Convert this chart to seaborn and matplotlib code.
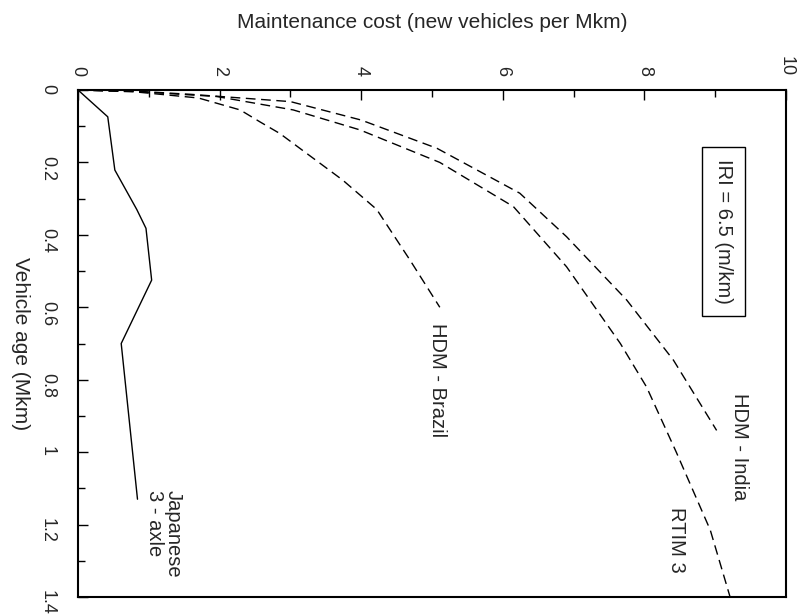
import matplotlib
matplotlib.use("Agg")
import matplotlib.pyplot as plt
import seaborn as sns
import pandas as pd

# Vehicle age (Mkm) and maintenance cost (new vehicles per Mkm)
age_india = [0.0, 0.003, 0.012, 0.032, 0.083, 0.161, 0.285, 0.405, 0.58, 0.746, 0.94]
cost_india = [0.0, 0.8, 1.6, 3.0, 4.0, 5.07, 6.24, 6.9, 7.75, 8.41, 9.02]

age_rtim = [0.0, 0.004, 0.018, 0.055, 0.11, 0.2, 0.322, 0.488, 0.7, 0.82, 1.0, 1.215, 1.4]
cost_rtim = [0.0, 0.8, 1.96, 3.04, 3.98, 5.11, 6.15, 6.9, 7.66, 8.03, 8.45, 8.93, 9.21]

age_brazil = [0.0, 0.005, 0.022, 0.055, 0.088, 0.12, 0.249, 0.33, 0.47, 0.6]
cost_brazil = [0.0, 0.8, 1.7, 2.29, 2.57, 2.85, 3.74, 4.22, 4.69, 5.11]

age_japan = [0.0, 0.074, 0.221, 0.33, 0.382, 0.525, 0.70, 1.13]
cost_japan = [0.0, 0.42, 0.52, 0.83, 0.96, 1.04, 0.61, 0.84]

cost_ticks = [0, 2, 4, 6, 8, 10]
age_ticks = [0, 0.2, 0.4, 0.6, 0.8, 1.0, 1.2, 1.4]
age_tick_labels = ["0", "0.2", "0.4", "0.6", "0.8", "1", "1.2", "1.4"]


def main():
    sns.set_theme(style="white")
    plt.rcParams['font.family'] = ['Liberation Sans', 'DejaVu Sans']

    fig = plt.figure(figsize=(8.06, 6.14), dpi=100)
    ax = fig.add_axes([0.0968, 0.0277, 0.8784, 0.8257])

    dashed = (0, (7, 4))
    curves = [
        (cost_india, age_india, dashed),
        (cost_rtim, age_rtim, dashed),
        (cost_brazil, age_brazil, dashed),
        (cost_japan, age_japan, "-"),
    ]
    for cost, age, ls in curves:
        df = pd.DataFrame({"cost": cost, "age": age})
        sns.lineplot(data=df, x="cost", y="age", sort=False, estimator=None,
                     color="black", linewidth=1.0, linestyle=ls, ax=ax)

    ax.set_xlim(0, 10)
    ax.set_ylim(1.4, 0)

    # the chart is drawn turned a quarter turn clockwise
    ax.xaxis.tick_top()
    ax.xaxis.set_label_position("top")
    ax.set_xticks(cost_ticks)
    ax.set_xticklabels([str(t) for t in cost_ticks])
    ax.set_xticks([1, 3, 5, 7, 9], minor=True)
    ax.set_yticks(age_ticks)
    ax.set_yticklabels(age_tick_labels)
    ax.set_yticks([0.1, 0.3, 0.5, 0.7, 0.9, 1.1, 1.3], minor=True)

    ax.tick_params(which="both", direction="in", color="black", width=1.0,
                   top=True, left=True, bottom=False, right=False)
    ax.tick_params(which="major", length=7)
    ax.tick_params(which="minor", length=5)
    ax.tick_params(axis="x", labelsize=13, labelrotation=270, pad=10)
    ax.tick_params(axis="y", labelsize=13, labelrotation=270, pad=16)

    for sp in ax.spines.values():
        sp.set_color("black")
        sp.set_linewidth(1.5)

    ax.set_xlabel("Maintenance cost (new vehicles per Mkm)", fontsize=15, labelpad=20)
    ax.set_ylabel("Vehicle age (Mkm)", fontsize=15, rotation=270, va="top", labelpad=6)

    ax.text(9.12, 0.39, "IRI = 6.5 (m/km)", rotation=270, ha="center", va="center",
            fontsize=14.5, bbox=dict(boxstyle="square,pad=0.6", fc="white", ec="black", lw=1.0))
    ax.text(9.35, 0.986, "HDM - India", rotation=270, ha="center", va="center", fontsize=14.5)
    ax.text(8.46, 1.243, "RTIM 3", rotation=270, ha="center", va="center", fontsize=14.5)
    ax.text(5.08, 0.80, "HDM - Brazil", rotation=270, ha="center", va="center", fontsize=14.5)
    ax.text(1.21, 1.105, "Japanese\n3 - axle", rotation=270, ha="center", va="top",
            multialignment="left", linespacing=1.0, fontsize=14.5)

    plt.savefig("out.png", dpi=100)
    plt.close()


if __name__ == "__main__":
    main()
